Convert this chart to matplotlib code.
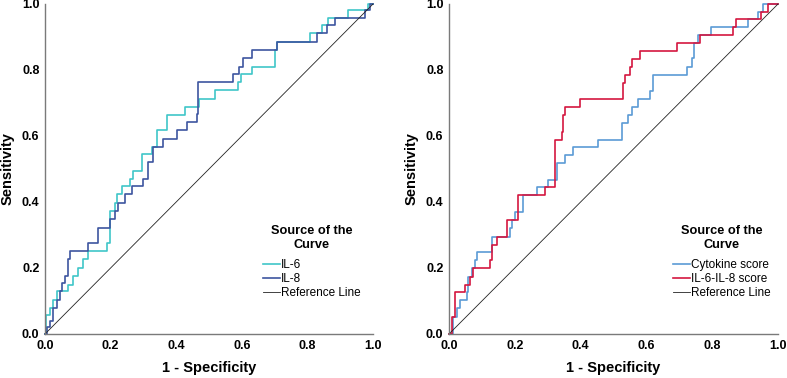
import matplotlib
matplotlib.use("Agg")
import matplotlib.pyplot as plt

plt.rcParams['font.family'] = ['Liberation Sans', 'DejaVu Sans']

# ROC step points (1 - specificity, sensitivity)
il6_fpr = [0, .002, .015, .025, .038, .071, .086, .102, .117, .132, .188, .198, .213, .218, .234, .259, .269, .295,
           .325, .340, .371, .427, .468, .518, .589, .599, .630, .701, .706, .808, .844, .864, .925, .985, 1.0]
il6_tpr = [0, .058, .078, .104, .129, .149, .175, .200, .226, .251, .276, .373, .398, .424, .449, .470, .495, .546,
           .566, .617, .663, .688, .713, .739, .764, .787, .810, .861, .886, .912, .935, .959, .983, 1.0, 1.0]

il8_fpr = [0, .005, .015, .025, .036, .046, .051, .061, .071, .076, .132, .163, .198, .213, .224, .244, .264, .300,
           .315, .330, .361, .401, .432, .462, .467, .574, .592, .605, .630, .706, .828, .859, .884, .976, .991, 1.0]
il8_tpr = [0, .022, .038, .078, .104, .129, .154, .175, .226, .251, .276, .322, .348, .373, .398, .424, .449, .470,
           .520, .566, .591, .617, .642, .668, .764, .787, .810, .835, .861, .886, .912, .935, .959, .983, 1.0, 1.0]

cyto_fpr = [0, .013, .023, .033, .054, .059, .069, .079, .084, .130, .185, .190, .200, .226, .266, .302, .327, .353,
            .378, .454, .525, .545, .555, .575, .611, .621, .722, .738, .745, .758, .795, .910, .938, .954, 1.0]
cyto_tpr = [0, .053, .078, .103, .128, .174, .199, .224, .250, .295, .320, .345, .371, .421, .446, .467, .517, .542,
            .568, .588, .638, .664, .689, .711, .737, .785, .810, .835, .883, .906, .931, .954, .977, 1.0, 1.0]

score_fpr = [0, .008, .018, .049, .064, .074, .125, .130, .145, .175, .211, .292, .322, .342, .348, .353, .398, .530,
             .535, .550, .555, .580, .692, .763, .864, .872, .947, .971, 1.0]
score_tpr = [0, .053, .128, .148, .174, .199, .224, .270, .295, .345, .421, .446, .588, .613, .664, .689, .711, .760,
             .785, .810, .832, .858, .883, .906, .931, .954, .977, 1.0, 1.0]

ticks = [0.0, 0.2, 0.4, 0.6, 0.8, 1.0]
tick_labels = ["0.0", "0.2", "0.4", "0.6", "0.8", "1.0"]

fig = plt.figure(figsize=(7.87, 3.78), dpi=100)
ax1 = fig.add_axes([45/787, 1-334/378, 328/787, 330/378])
ax2 = fig.add_axes([449/787, 1-334/378, 329/787, 330/378])

panels = [
    (ax1, [(il6_fpr, il6_tpr, "IL-6", "#3FC6C8"), (il8_fpr, il8_tpr, "IL-8", "#3D55A0")], 0.665),
    (ax2, [(cyto_fpr, cyto_tpr, "Cytokine score", "#5B9BD5"), (score_fpr, score_tpr, "IL-6-IL-8 score", "#D4163F")], 0.681),
]

for ax, series, lx in panels:
    for x, y, name, c in series:
        ax.plot(x, y, drawstyle="steps-post", color=c, lw=1.2, label=name, clip_on=False)
    ax.plot([0, 1], [0, 1], color="#222222", lw=0.6, label="Reference Line", clip_on=False)
    ax.set_xlim(0, 1)
    ax.set_ylim(0, 1)
    ax.set_xticks(ticks)
    ax.set_xticklabels(tick_labels, fontweight="bold", fontsize=9)
    ax.set_yticks(ticks)
    ax.set_yticklabels(tick_labels, fontweight="bold", fontsize=9)
    ax.tick_params(length=0, pad=4)
    for s in ["top", "right"]:
        ax.spines[s].set_visible(False)
    for s in ["left", "bottom"]:
        ax.spines[s].set_color("#7a7a7a")
        ax.spines[s].set_linewidth(1.0)
    ax.set_xlabel("1 - Specificity", fontweight="bold", fontsize=10.5, labelpad=7)
    ax.set_ylabel("Sensitivity", fontweight="bold", fontsize=10.5, labelpad=5)
    leg = ax.legend(loc="upper left", bbox_to_anchor=(lx, 0.33), frameon=False, fontsize=8.5,
                    title="Source of the\nCurve", handlelength=1.4, handletextpad=0.1,
                    borderpad=0, borderaxespad=0, labelspacing=0.15)
    leg.get_title().set_fontweight("bold")
    leg.get_title().set_fontsize(9.2)
    leg.get_title().set_multialignment("center")
    leg._legend_box.sep = 6

fig.savefig("out.png", dpi=100)
